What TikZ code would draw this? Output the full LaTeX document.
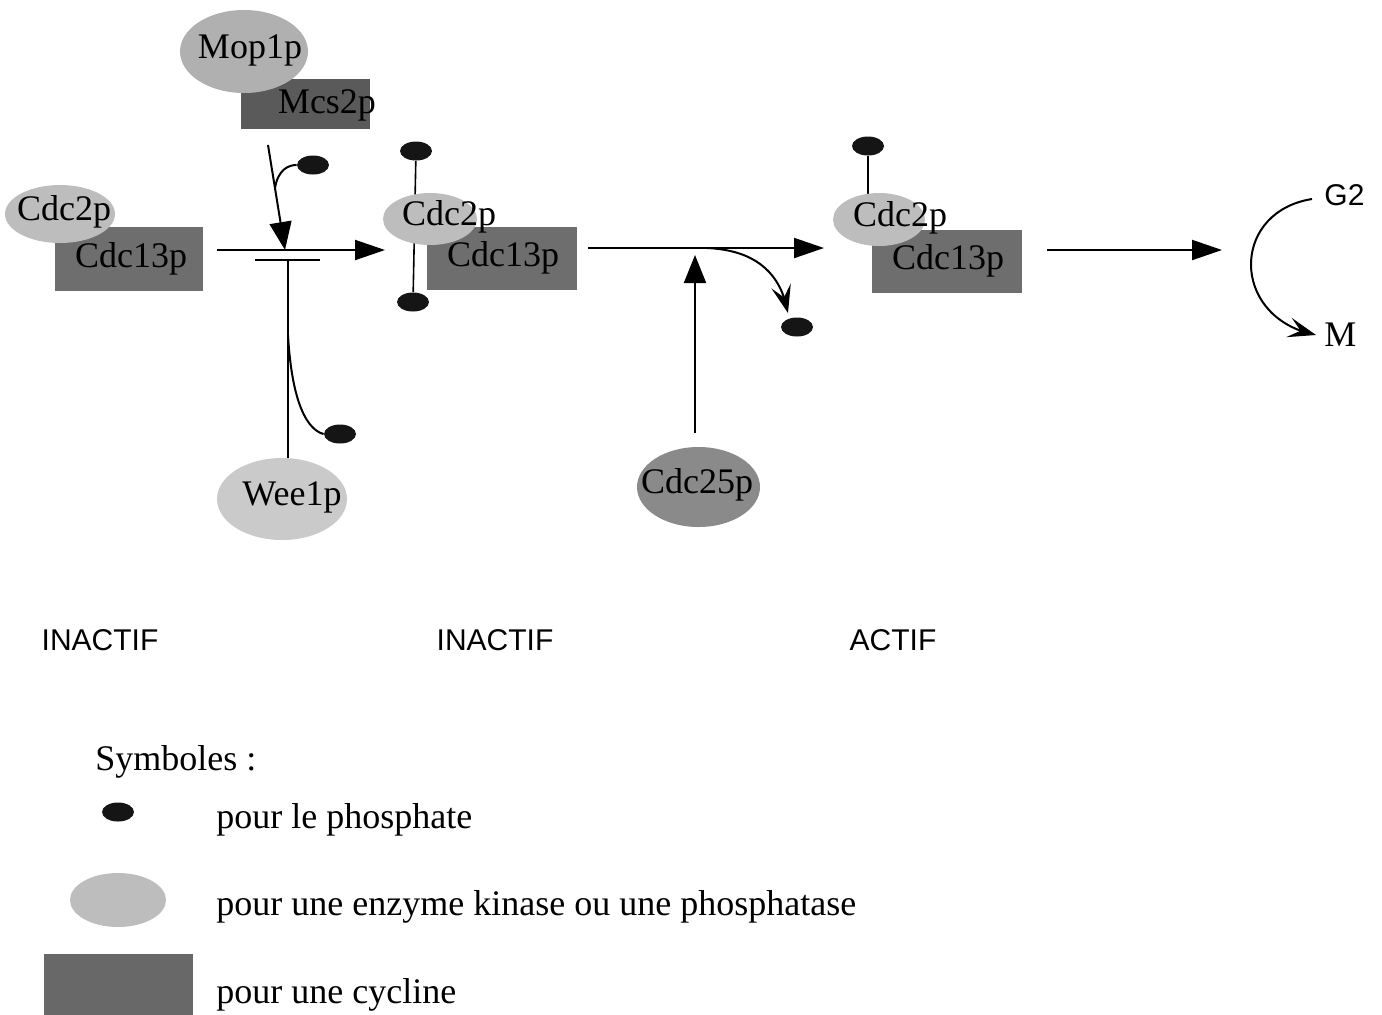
\documentclass[tikz,border=0pt]{standalone}
\usepackage{fontspec}
\setmainfont{Liberation Serif}
\newfontfamily\labelsans{Liberation Sans}
\usetikzlibrary{shapes.geometric,arrows.meta,bending}
\definecolor{enzyme}{HTML}{BDBDBD}
\definecolor{enzymelight}{HTML}{CACACA}
\definecolor{enzymemid}{HTML}{B0B0B0}
\definecolor{phosphatase}{HTML}{8A8A8A}
\definecolor{cycline}{HTML}{6E6E6E}
\definecolor{cyclinedark}{HTML}{5A5A5A}
\definecolor{phos}{HTML}{151515}
\tikzset{
  enz/.style={ellipse, fill=enzyme, draw=none, inner sep=0pt},
  cyc/.style={rectangle, fill=cycline, draw=none, inner sep=0pt},
  pdot/.style={ellipse, fill=phos, draw=none, inner sep=0pt, minimum width=16pt, minimum height=9.5pt},
  lbl/.style={font=\fontsize{18}{21}\selectfont, inner sep=0pt},
  state/.style={font=\labelsans\fontsize{15}{18}\selectfont, inner sep=0pt},
  link/.style={line width=1pt, draw=black},
  arr/.style={link, -{Triangle[length=15pt,width=10pt]}},
  darr/.style={link, -{Triangle[length=14pt,width=11pt]}},
  chev/.style={link, -{Stealth[length=14pt,width=10pt,inset=6pt]}},
}
\begin{document}
\begin{tikzpicture}[x=0.5pt,y=-0.5pt]
\useasboundingbox[fill=white] (0,0) rectangle (1382,1014);

% ---------- phosphate groups attached to Cdc2p ----------
\node[pdot] (p2t) at (416,151) {};
\node[pdot] (p2b) at (413,302) {};
\node[pdot] (p3t) at (868,146) {};
\draw[link, line width=0.8pt] (p2t) -- (p2b);
\draw[link, line width=0.8pt] (p3t) -- (868,200);

% ---------- Mop1p / Mcs2p ----------
\node[cyc, fill=cyclinedark, minimum width=64.5pt, minimum height=25pt] (mcs) at (305.5,104) {};
\node[enz, fill=enzymemid, minimum width=64pt, minimum height=41.5pt] (mop) at (244,51.5) {};
\node[lbl] (mopt) at (250,50) {Mop1p};
\node[lbl] (mcst) at (327,105) {Mcs2p};

% ---------- Cdc2p / Cdc13p complexes ----------
\node[cyc, minimum width=74pt, minimum height=32pt] (c1) at (129,259) {};
\node[enz, minimum width=55pt, minimum height=29pt] (k1) at (60,214) {};
\node[lbl] (k1t) at (64,212) {Cdc2p};
\node[lbl] (c1t) at (131,259) {Cdc13p};

\node[cyc, minimum width=75pt, minimum height=31.5pt] (c2) at (502,258.5) {};
\node[enz, minimum width=47pt, minimum height=26pt] (k2) at (430,219) {};
\node[lbl] (k2t) at (449,217) {Cdc2p};
\node[lbl] (c2t) at (503,258) {Cdc13p};

\node[cyc, minimum width=75pt, minimum height=31.5pt] (c3) at (947,261.5) {};
\node[enz, minimum width=46pt, minimum height=26.5pt] (k3) at (879,219.5) {};
\node[lbl] (k3t) at (900,218) {Cdc2p};
\node[lbl] (c3t) at (948,261) {Cdc13p};

% ---------- Wee1p and Cdc25p ----------
\node[enz, fill=enzymelight, minimum width=65pt, minimum height=41pt] (wee) at (282,499) {};
\node[lbl] (weet) at (292,497) {Wee1p};
\node[enz, fill=phosphatase, minimum width=61.5pt, minimum height=40pt] (c25) at (698.5,487) {};
\node[lbl] (c25t) at (697,485) {Cdc25p};

% ---------- free phosphates ----------
\node[pdot] (pm) at (313,165) {};
\node[pdot] (pw) at (340,434) {};
\node[pdot] (pr) at (797,327) {};

% ---------- step 1: phosphorylation, blocked by the bar ----------
\coordinate (a1s) at (217,250);
\coordinate (a1e) at (385,250);
\draw[arr] (a1s) -- (a1e);
\coordinate (ms) at (268,145);
\coordinate (me) at (285,250);
\draw[darr] (ms) -- (me);
\coordinate (mb) at (275,188);
\draw[link] (mb) .. controls (278,170) and (288,165) .. (pm.west);
\coordinate (bl) at (255,260);
\coordinate (br) at (320,260);
\draw[link] (bl) -- (br);
\coordinate (wtop) at (288,260);
\draw[link] (wtop) -- (wee.north -| wtop);
\coordinate (wb) at (288,335);
\draw[link] (wb) .. controls (292,405) and (308,430) .. (pw.west);

% ---------- step 2: dephosphorylation by Cdc25p ----------
\coordinate (a2s) at (588,248);
\coordinate (a2e) at (824,248);
\draw[arr] (a2s) -- (a2e);
\coordinate (rb) at (707,248);
\coordinate (rt) at (788,313);
\draw[chev] (rb) .. controls (750,250) and (780,268) .. (rt);
\coordinate (cup) at (695,255);
\coordinate (cst) at (695,433);
\draw[darr] (cst) -- (cup);

% ---------- step 3: entry into mitosis ----------
\coordinate (a3s) at (1047,250);
\coordinate (a3e) at (1222,250);
\draw[arr] (a3s) -- (a3e);
\node[font=\labelsans\fontsize{15}{18}\selectfont, anchor=west, inner sep=0pt] (g2) at (1324,195) {G2};
\node[lbl, anchor=west] (mm) at (1324,335) {M};
\coordinate (gs) at (1312,199);
\coordinate (ge) at (1316,335);
\draw[chev] (gs) .. controls (1230,212) and (1230,318) .. (ge);

% ---------- activity states ----------
\node[state] (s1) at (100,640) {INACTIF};
\node[state] (s2) at (495,640) {INACTIF};
\node[state] (s3) at (893,640) {ACTIF};

% ---------- legend ----------
\node[lbl, anchor=base west] (sym) at (95,770) {Symboles :};
\node[pdot] (lp) at (118,812) {};
\node[lbl, anchor=base west] (lpt) at (216,828) {pour le phosphate};
\node[enz, minimum width=48pt, minimum height=27pt] (le) at (118,900) {};
\node[lbl, anchor=base west] (let) at (216,915) {pour une enzyme kinase ou une phosphatase};
\node[cyc, fill=cycline!95!black, minimum width=74.5pt, minimum height=31pt] (lc) at (118.5,985) {};
\node[lbl, anchor=base west] (lct) at (216,1003) {pour une cycline};
\end{tikzpicture}
\end{document}
